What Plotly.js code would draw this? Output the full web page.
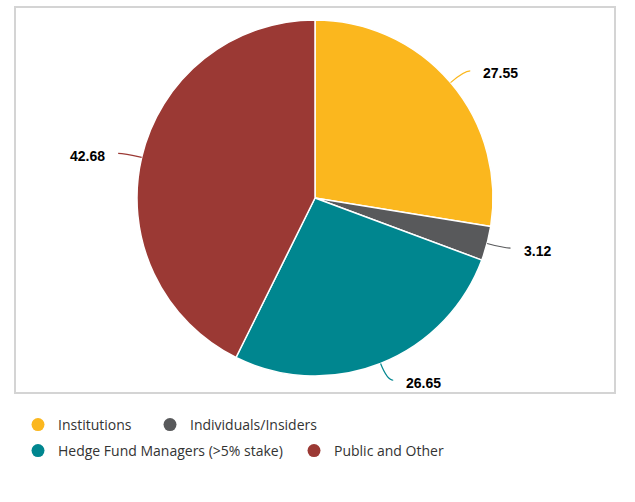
<!DOCTYPE html>
<html>
<head>
<meta charset="utf-8">
<script src="https://cdn.plot.ly/plotly-3.0.1.min.js"></script>
<style>
    html, body { margin: 0; padding: 0; background: #fff; }
    #chart { width: 635px; height: 502px; }
</style>
</head>
<body>
<div id="chart"></div>
<script>
// Shareholder structure pie, labels outside with small curved leaders

const categories = ['Institutions', 'Individuals/Insiders', 'Hedge Fund Managers (>5% stake)', 'Public and Other'];
const shares = [27.55, 3.12, 26.65, 42.68];
const sliceColors = ['#FBB71E', '#58595B', '#00868F', '#9B3934'];

const WIDTH = 635, HEIGHT = 502;
const margin = { l: 15, r: 20, t: 7, b: 109, pad: 0 };
const plotW = WIDTH - margin.l - margin.r;
const plotH = HEIGHT - margin.t - margin.b;
const pieDomain = { x: [0, 1], y: [0.044, 0.9663] };

// legend entry slots (pixel left edge / row centre), flowing like the original two rows
const legendSlots = [
    { left: 18, mid: 425 },
    { left: 150, mid: 425 },
    { left: 18, mid: 451 },
    { left: 294, mid: 451 }
];

// pixel -> paper helpers
const toPaperX = px => (px - margin.l) / plotW;
const toPaperY = py => (HEIGHT - margin.b - py) / plotH;

// pie geometry as plotly lays it out (no outside text, so radius = half the domain height)
const radius = Math.min(plotW * (pieDomain.x[1] - pieDomain.x[0]), plotH * (pieDomain.y[1] - pieDomain.y[0])) / 2;
const cx = margin.l + plotW * (pieDomain.x[0] + pieDomain.x[1]) / 2;
const cy = HEIGHT - margin.b - plotH * (pieDomain.y[0] + pieDomain.y[1]) / 2;

const total = shares.reduce((a, b) => a + b, 0);
const shapes = [{
    type: 'rect', xref: 'paper', yref: 'paper',
    x0: 0, x1: 1, y0: 0, y1: 1,
    line: { color: '#d4d4d4', width: 2 },
    layer: 'below'
}];
const annotations = [];

// leader line + value label for every slice
let cum = 0;
shares.forEach((v, i) => {
    const mid = (cum + v / 2) / total * 2 * Math.PI;
    cum += v;
    const sx = Math.sin(mid), sy = -Math.cos(mid);
    const side = sx >= 0 ? 1 : -1;
    const p0 = [cx + radius * sx, cy + radius * sy];
    const knee = [cx + (radius + 18) * sx, cy + (radius + 18) * sy];
    const end = [knee[0] + 6 * side, knee[1]];
    shapes.push({
        type: 'path', xref: 'paper', yref: 'paper',
        path: `M ${toPaperX(p0[0])},${toPaperY(p0[1])} Q ${toPaperX(knee[0])},${toPaperY(knee[1])} ${toPaperX(end[0])},${toPaperY(end[1])}`,
        line: { color: sliceColors[i], width: 1.2 }
    });
    annotations.push({
        xref: 'paper', yref: 'paper',
        x: toPaperX(end[0] + 11 * side),
        y: toPaperY(end[1] + 2.5),
        xanchor: side > 0 ? 'left' : 'right',
        yanchor: 'middle',
        showarrow: false,
        text: `<b>${v.toFixed(2)}</b>`,
        font: { family: 'Liberation Sans, Arial, sans-serif', size: 14, color: '#000' }
    });
});

const pieTrace = {
    type: 'pie',
    labels: categories,
    values: shares,
    sort: false,
    direction: 'clockwise',
    domain: pieDomain,
    textinfo: 'none',
    marker: { colors: sliceColors, line: { color: '#fff', width: 1.5 } },
    hovertemplate: '%{label}: %{value}<extra></extra>',
    showlegend: false
};

// one legend per entry (empty marker traces) so entries flow with their own widths
const legendNames = categories.map((c, i) => i === 0 ? 'legend' : 'legend' + (i + 1));
const legendTraces = categories.map((c, i) => ({
    type: 'scatter',
    mode: 'markers',
    x: [null], y: [null],
    name: c,
    legend: legendNames[i],
    marker: { color: sliceColors[i], size: 13, symbol: 'circle' },
    hoverinfo: 'skip'
}));

const legendFont = { family: 'Open Sans, sans-serif', size: 14, color: '#333' };

const layout = {
    width: WIDTH,
    height: HEIGHT,
    margin: margin,
    paper_bgcolor: '#fff',
    plot_bgcolor: '#fff',
    showlegend: true,
    xaxis: { visible: false, fixedrange: true },
    yaxis: { visible: false, fixedrange: true },
    shapes: shapes,
    annotations: annotations
};

legendNames.forEach((name, i) => {
    layout[name] = {
        orientation: 'h',
        x: toPaperX(legendSlots[i].left), xanchor: 'left',
        y: toPaperY(legendSlots[i].mid), yanchor: 'middle',
        font: legendFont,
        bgcolor: 'rgba(0,0,0,0)',
        itemclick: false, itemdoubleclick: false
    };
});

Plotly.newPlot('chart', [pieTrace].concat(legendTraces), layout, { displayModeBar: false });
</script>
</body>
</html>
